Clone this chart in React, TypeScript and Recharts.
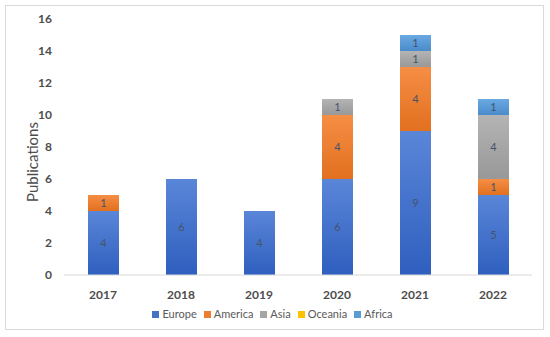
import React from 'react';
import { BarChart, Bar, XAxis, YAxis, LabelList } from 'recharts';

const years = ['2017', '2018', '2019', '2020', '2021', '2022'];
const europe = [4, 6, 4, 6, 9, 5];
const america = [1, null, null, 4, 4, 1];
const asia = [null, null, null, 1, 1, 4];
const oceania = [null, null, null, null, null, null];
const africa = [null, null, null, null, 1, 1];
const yTicks = [0, 2, 4, 6, 8, 10, 12, 14, 16];

const data = years.map((y, i) => ({
  year: y,
  Europe: europe[i],
  America: america[i],
  Asia: asia[i],
  Oceania: oceania[i],
  Africa: africa[i],
}));

const series = [
  { key: 'Europe', color: '#4472C4', top: '#5A86D8', bottom: '#2F5FBF' },
  { key: 'America', color: '#ED7D31', top: '#F58E45', bottom: '#E2701F' },
  { key: 'Asia', color: '#A5A5A5', top: '#B4B4B4', bottom: '#989898' },
  { key: 'Oceania', color: '#FFC000', top: '#FFCB2E', bottom: '#F0B400' },
  { key: 'Africa', color: '#5B9BD5', top: '#6AA9E2', bottom: '#4A8BCB' },
];

const font = 'Lato, "Open Sans", sans-serif';

export default function App() {
  return (
    <div style={{ position: 'absolute', left: 0, top: 0, width: 550, height: 337, background: '#fff' }}>
      <div
        style={{
          position: 'absolute',
          left: 5,
          top: 5,
          width: 539,
          height: 325,
          border: '1px solid #D9D9D9',
          boxSizing: 'border-box',
        }}
      />
      <div style={{ position: 'absolute', left: 0, top: 0 }}>
        <BarChart
          width={550}
          height={337}
          data={data}
          margin={{ top: 19, right: 18, bottom: 32, left: 0 }}
          barSize={31}
          style={{ fontFamily: font }}
        >
          <defs>
            {series.map((s) => (
              <linearGradient key={s.key} id={`g-${s.key}`} x1="0" y1="0" x2="0" y2="1">
                <stop offset="0%" stopColor={s.top} />
                <stop offset="100%" stopColor={s.bottom} />
              </linearGradient>
            ))}
          </defs>
          <XAxis
            dataKey="year"
            height={30}
            axisLine={{ stroke: '#D9D9D9' }}
            tickLine={false}
            tickMargin={9}
            tick={{ fill: '#4D4D4D', fontSize: 12, fontWeight: 700, fontFamily: font }}
          />
          <YAxis
            width={64}
            domain={[0, 16]}
            ticks={yTicks}
            interval={0}
            axisLine={false}
            tickLine={false}
            tickSize={0}
            tickMargin={12}
            tick={{ fill: '#4D4D4D', fontSize: 12, fontWeight: 700, fontFamily: font }}
            label={{
              content: () => (
                <text
                  x={38}
                  y={162}
                  transform="rotate(-90 38 162)"
                  textAnchor="middle"
                  fill="#4D4D4D"
                  fontSize={15}
                  fontFamily={font}
                >
                  Publications
                </text>
              ),
            }}
          />
          {series.map((s) => (
            <Bar
              key={s.key}
              dataKey={s.key}
              stackId="a"
              fill={`url(#g-${s.key})`}
              isAnimationActive={false}
            >
              <LabelList
                dataKey={s.key}
                position="center"
                fill="#44546A"
                fontSize={11}
                fontFamily={font}
                formatter={(v: any) => (v ? v : '')}
              />
            </Bar>
          ))}
        </BarChart>
      </div>
      <div
        style={{
          position: 'absolute',
          left: 0,
          top: 306,
          width: 552,
          display: 'flex',
          justifyContent: 'center',
          fontFamily: font,
          fontSize: 11,
          color: '#595959',
          lineHeight: '16px',
        }}
      >
        {series.map((s) => (
          <div key={s.key} style={{ display: 'flex', alignItems: 'center', margin: '0 7px 0 0' }}>
            <span style={{ width: 7, height: 7, background: s.color, display: 'inline-block', marginRight: 3 }} />
            <span>{s.key}</span>
          </div>
        ))}
      </div>
    </div>
  );
}
